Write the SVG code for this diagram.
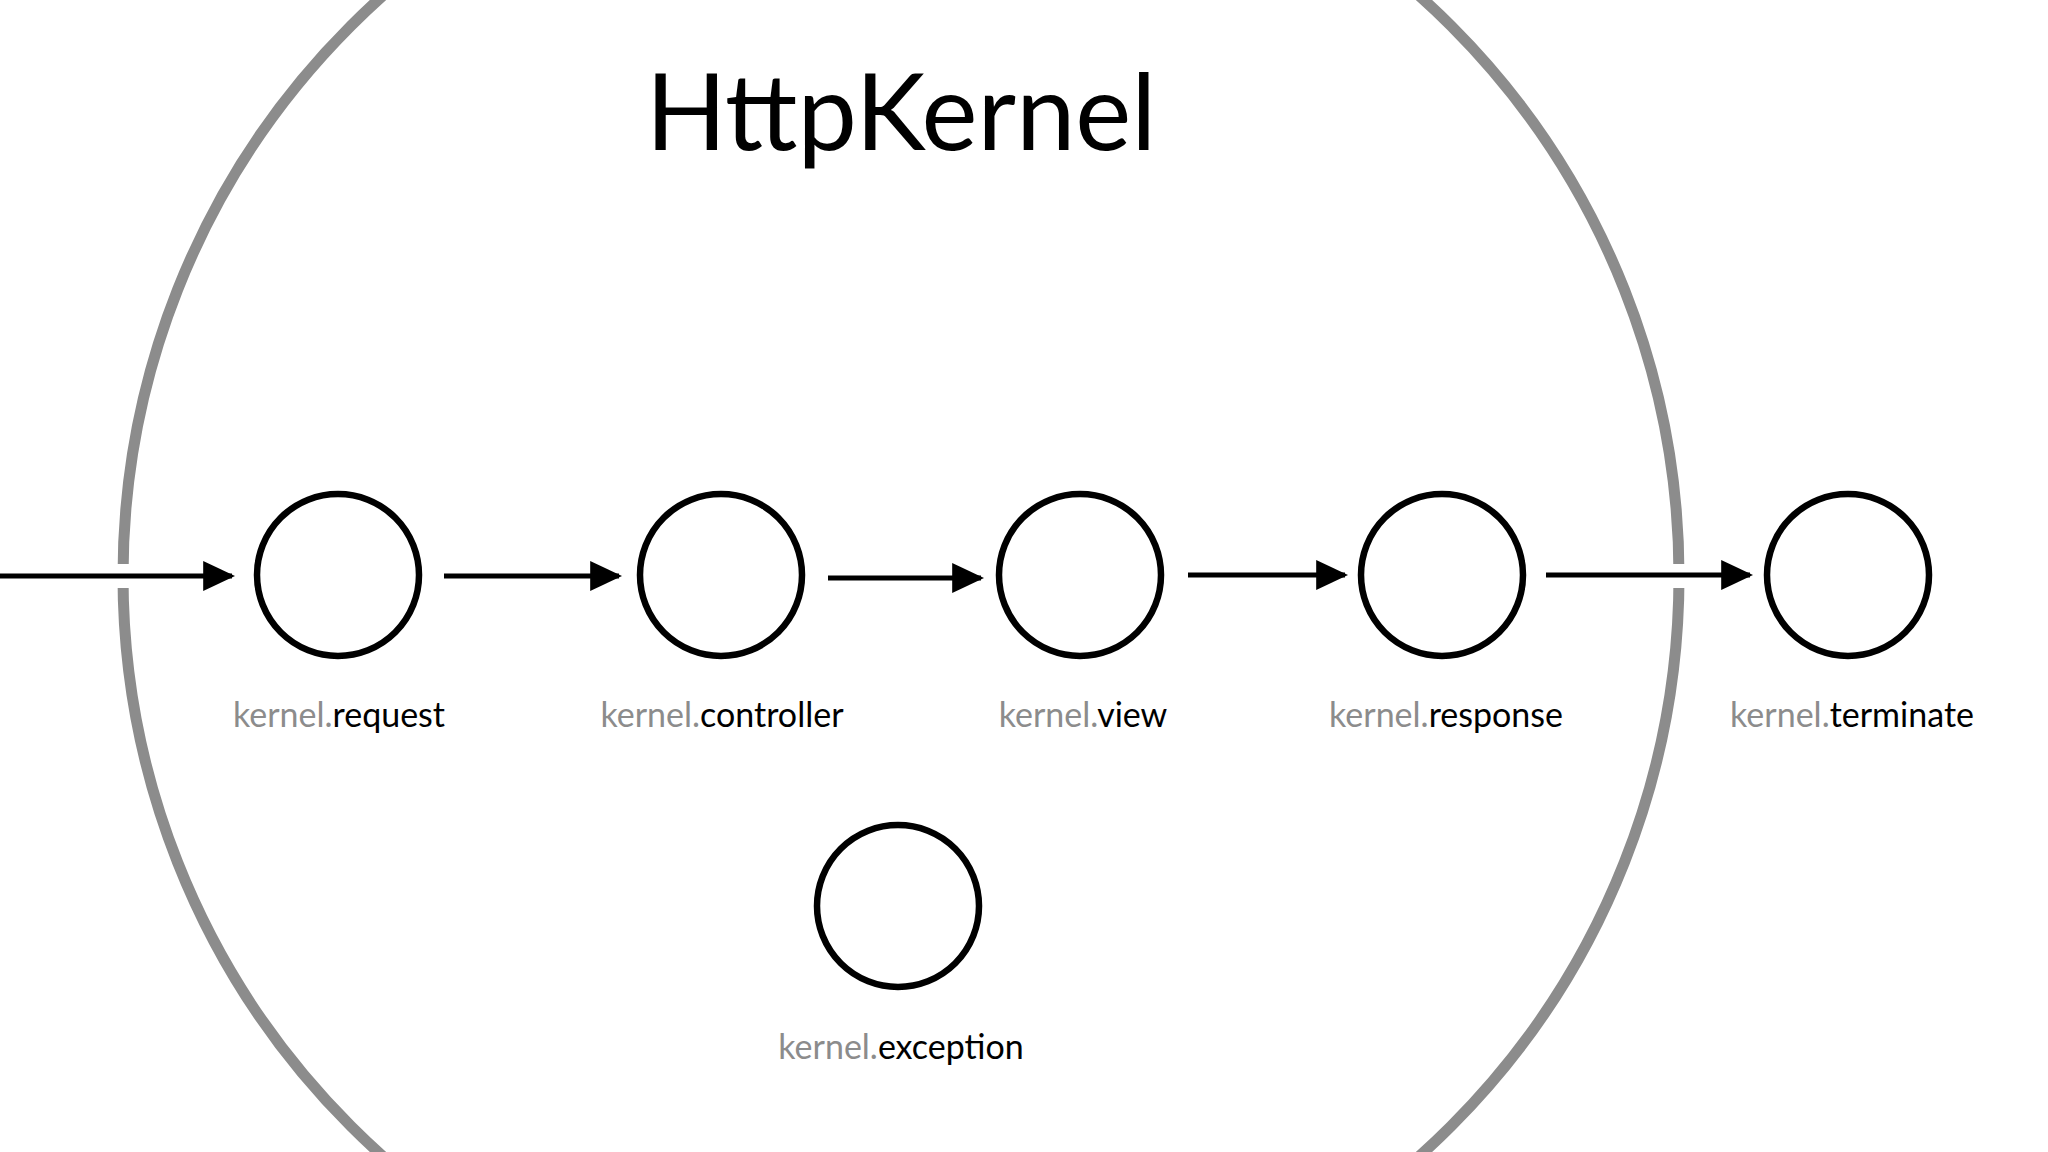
<svg xmlns="http://www.w3.org/2000/svg" width="2048" height="1152" viewBox="0 0 2048 1152">
<style>
.n{fill:none;stroke:#000;stroke-width:6.5}
.a{stroke:#000;stroke-width:5;fill:none}
.gap{stroke:#fff;stroke-width:24}
.l{font-family:Lato,"Open Sans",sans-serif;font-size:34px;text-anchor:middle;fill:#000}
.g{fill:#8c8c8c}
</style>
<defs><marker id="ah" markerWidth="8" markerHeight="8" refX="7" refY="4" orient="auto" markerUnits="userSpaceOnUse" viewBox="0 0 8 8"><path d="M0,0L8,4L0,8z"/></marker>
<marker id="h" viewBox="0 0 10 10" refX="9" refY="5" markerWidth="32" markerHeight="30" markerUnits="userSpaceOnUse" orient="auto" preserveAspectRatio="none"><path d="M0,0L10,5L0,10z" fill="#000"/></marker></defs>
<rect width="2048" height="1152" fill="#fff"/>
<circle cx="901" cy="576" r="778" fill="none" stroke="#8c8c8c" stroke-width="11"/>
<text x="901" y="150" class="l" style="font-size:106px">HttpKernel</text>
<g id="connectors">
<line class="gap" x1="100" y1="576" x2="150" y2="576"/>
<line class="gap" x1="1650" y1="576" x2="1700" y2="576"/>
<line class="a" x1="0" y1="576" x2="232" y2="576" marker-end="url(#h)"/>
<line class="a" x1="444" y1="576" x2="619" y2="576" marker-end="url(#h)"/>
<line class="a" x1="828" y1="578" x2="981" y2="578" marker-end="url(#h)"/>
<line class="a" x1="1188" y1="575" x2="1345" y2="575" marker-end="url(#h)"/>
<line class="a" x1="1546" y1="575" x2="1750" y2="575" marker-end="url(#h)"/>
</g>
<g id="request"><circle class="n" cx="338" cy="575" r="81"/><text class="l" x="339" y="727"><tspan class="g">kernel.</tspan>request</text></g>
<g id="controller"><circle class="n" cx="721" cy="575" r="81"/><text class="l" x="722" y="727"><tspan class="g">kernel.</tspan>controller</text></g>
<g id="view"><circle class="n" cx="1080" cy="575" r="81"/><text class="l" x="1083" y="727"><tspan class="g">kernel.</tspan>view</text></g>
<g id="response"><circle class="n" cx="1442" cy="575" r="81"/><text class="l" x="1446" y="727"><tspan class="g">kernel.</tspan>response</text></g>
<g id="terminate"><circle class="n" cx="1848" cy="575" r="81"/><text class="l" x="1852" y="727"><tspan class="g">kernel.</tspan>terminate</text></g>
<g id="exception"><circle class="n" cx="898" cy="906" r="81"/><text class="l" x="901" y="1059"><tspan class="g">kernel.</tspan>exception</text></g>
</svg>
